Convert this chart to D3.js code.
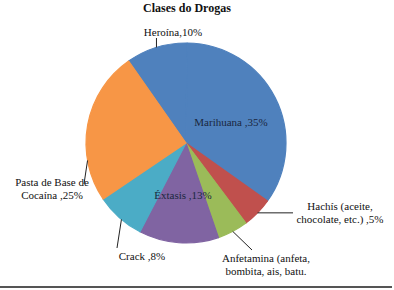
<!DOCTYPE html>
<html>
<head>
<meta charset="utf-8">
<script src="https://cdn.jsdelivr.net/npm/d3@7"></script>
<style>
  body { margin: 0; background: #fff; }
</style>
</head>
<body>
<div id="chart-area"></div>
<script>

// data
var categories = ["Heroína", "Marihuana", "Hachís", "Anfetamina", "Éxtasis", "Crack", "Pasta de Base de Cocaína"];
var values = [10, 35, 5, 5, 13, 8, 25];
var colors = ["#4F81BD", "#4F81BD", "#C0504D", "#9BBB59", "#8064A2", "#4BACC6", "#F79646"];
var labels = [
    ["Heroína,10%"],
    ["Marihuana ,35%"],
    ["Hachís (aceite,", "chocolate, etc.) ,5%"],
    ["Anfetamina (anfeta,", "bombita, ais, batu."],
    ["Éxtasis ,13%"],
    ["Crack ,8%"],
    ["Pasta de Base de", "Cocaína ,25%"]
];

// SVG Size
var width = 394,
    height = 290;

var cx = 186, cy = 143, radius = 100;
var serif = "'Liberation Serif', 'Times New Roman', 'DejaVu Serif', serif";

// label layout: x,y = text anchor (first baseline), lx,ly = leader end, f = where on the slice the leader starts
var layout = [
    {x: 173, y: 36, lx: null, ly: 38, f: 0.5},
    {x: 231, y: 126, inside: true},
    {x: 340, y: 210, lx: 293, ly: null, f: 0.5},
    {x: 266, y: 262, lx: 252, ly: 250, f: 0.5},
    {x: 183, y: 199, inside: true},
    {x: 142, y: 260, lx: 117, ly: 248, f: 0.45},
    {x: 52, y: 186, lx: 84, ly: 184, f: 0.27}
];

var svg = d3.select("#chart-area")
    .append("svg")
    .attr("width", width)
    .attr("height", height)
    .attr("font-family", serif);

var pie = d3.pie()
    .sort(null)
    .startAngle(-35 * Math.PI / 180)
    .endAngle(325 * Math.PI / 180);

var arcs = pie(values);

var arc = d3.arc()
    .innerRadius(0)
    .outerRadius(radius);

var g = svg.append("g")
    .attr("transform", "translate(" + cx + "," + cy + ")");

g.selectAll("path")
    .data(arcs)
    .enter()
    .append("path")
    .attr("d", arc)
    .attr("fill", (d, i) => colors[i])
    .attr("stroke", (d, i) => colors[i])
    .attr("stroke-width", 1.2)
    .attr("stroke-linejoin", "round");

// title
svg.append("text")
    .attr("x", 187)
    .attr("y", 12)
    .attr("text-anchor", "middle")
    .attr("font-size", "12px")
    .attr("font-weight", "bold")
    .attr("fill", "#111")
    .text("Clases do Drogas");

// leader lines
arcs.forEach(function(d, i) {
    var L = layout[i];
    if (L.inside) return;
    var a = d.startAngle + (d.endAngle - d.startAngle) * L.f;
    var x0 = cx + radius * Math.sin(a),
        y0 = cy - radius * Math.cos(a);
    var x1 = L.lx == null ? x0 : L.lx,
        y1 = L.ly == null ? y0 : L.ly;
    svg.append("line")
        .attr("x1", x0).attr("y1", y0)
        .attr("x2", x1).attr("y2", y1)
        .attr("stroke", "#222")
        .attr("stroke-width", 1);
});

// labels
labels.forEach(function(lines, i) {
    var L = layout[i];
    var t = svg.append("text")
        .attr("text-anchor", "middle")
        .attr("font-size", "11px")
        .attr("fill", L.inside ? "#1a2740" : "#111");
    lines.forEach(function(s, j) {
        t.append("tspan")
            .attr("x", L.x)
            .attr("y", L.y + j * 13)
            .text(s);
    });
});

// bottom rule
svg.append("line")
    .attr("x1", 0).attr("x2", 392)
    .attr("y1", 287).attr("y2", 287)
    .attr("stroke", "#555")
    .attr("stroke-width", 2);

</script>
</body>
</html>
